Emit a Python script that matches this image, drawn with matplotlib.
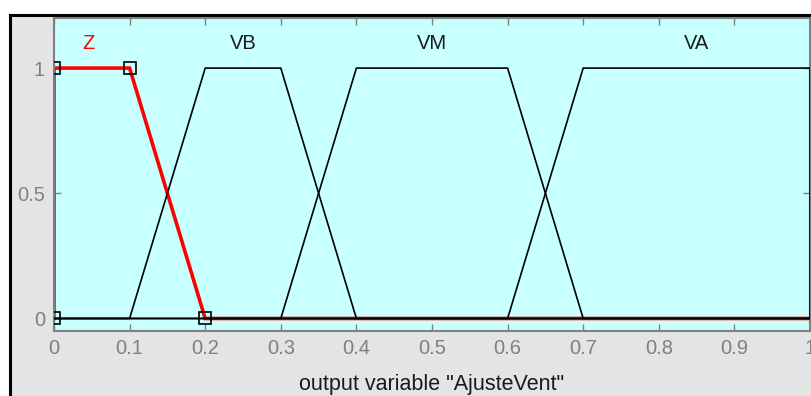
import matplotlib
matplotlib.use("Agg")
import matplotlib.pyplot as plt
from matplotlib.patches import Rectangle
from matplotlib.lines import Line2D

plt.rcParams['font.family'] = ['Liberation Sans', 'DejaVu Sans']

# Membership functions of the output variable (trapezoids a, b, c, d)
mf_names = ["Z", "VB", "VM", "VA"]
mf_params = [
    [0.0, 0.0, 0.1, 0.2],
    [0.1, 0.2, 0.3, 0.4],
    [0.3, 0.4, 0.6, 0.7],
    [0.6, 0.7, 1.0, 1.0],
]
label_x = [0.045, 0.25, 0.5, 0.85]
selected = 0
x_range = [0.0, 1.0]
x_ticks = [0, 0.1, 0.2, 0.3, 0.4, 0.5, 0.6, 0.7, 0.8, 0.9, 1]
x_ticklabels = ["0", "0.1", "0.2", "0.3", "0.4", "0.5", "0.6", "0.7", "0.8", "0.9", "1"]
y_ticks = [0, 0.5, 1]
y_ticklabels = ["0", "0.5", "1"]
xlabel_text = 'output variable "AjusteVent"'

W, H = 811, 396
fig = plt.figure(figsize=(W / 100, H / 100), dpi=100, facecolor="white")

# gray panel with a black frame on top and left
fig.patches.append(Rectangle((10 / W, 0), 1, 1 - 15 / H, transform=fig.transFigure,
                             facecolor="#e4e4e4", edgecolor="none", zorder=-5))
fig.lines.append(Line2D([10 / W, 10 / W], [0, 1 - 15 / H], transform=fig.transFigure,
                        color="black", lw=2.2, zorder=-4))
fig.lines.append(Line2D([10 / W, 1], [1 - 15 / H, 1 - 15 / H], transform=fig.transFigure,
                        color="black", lw=2.2, zorder=-4))

ax = fig.add_axes([54 / W, 1 - 331 / H, (810 - 54) / W, (331 - 18) / H])
ax.set_zorder(1)
ax.set_facecolor("#c8ffff")
ax.set_xlim(0, 1)
ax.set_ylim(-0.05, 1.2)


def trap_points(p):
    a, b, c, d = p
    xs = [x_range[0], a, b, c, d, x_range[1]]
    ys = [0, 0, 1, 1, 0, 0]
    return xs, ys


for i, p in enumerate(mf_params):
    xs, ys = trap_points(p)
    if i == selected:
        ax.plot(xs, ys, color="red", lw=2.6, zorder=2, solid_joinstyle="miter")
        ax.plot(p, [0, 1, 1, 0], ls="none", marker="s", ms=8, mfc="none",
                mec="black", mew=1.2, zorder=4)
    else:
        ax.plot(xs, ys, color="black", lw=1.2, zorder=3)
    ax.text(label_x[i], 1.1, mf_names[i], ha="center", va="center", fontsize=14.5,
            color="red" if i == selected else "#1a1a1a")

ax.set_xticks(x_ticks)
ax.set_xticklabels(x_ticklabels)
ax.set_yticks(y_ticks)
ax.set_yticklabels(y_ticklabels)
ax.tick_params(direction="in", length=5, width=1, color="#808080",
               labelcolor="#808080", labelsize=14.5, top=True, right=True)
ax.tick_params(axis="x", pad=5.5)
ax.tick_params(axis="y", pad=6.5)
for s in ax.spines.values():
    s.set_color("#808080")
    s.set_linewidth(1.5)

ax.set_xlabel(xlabel_text, fontsize=15.5, color="#1a1a1a", labelpad=12)

fig.savefig("out.png", dpi=100, facecolor=fig.get_facecolor())
